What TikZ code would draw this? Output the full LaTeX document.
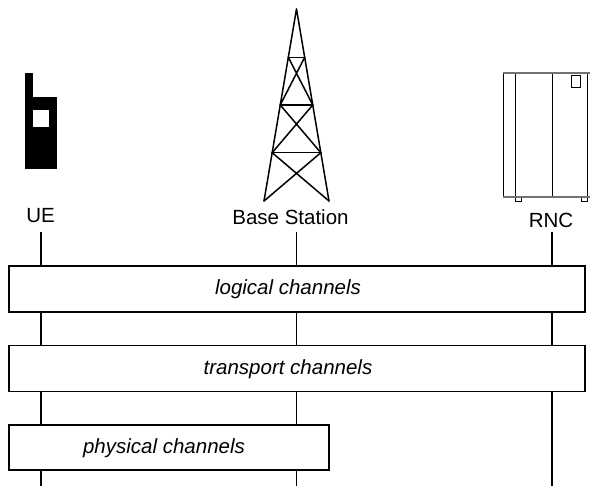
\documentclass[tikz,border=0pt]{standalone}
\usepackage{fontspec}
\setmainfont{Liberation Sans}
\usetikzlibrary{calc}

\tikzset{
  lbl/.style={inner sep=0pt, anchor=base, font=\fontsize{20.5}{24}\selectfont},
  chantext/.style={inner sep=0pt, anchor=base, font=\fontsize{20.5}{24}\selectfont\itshape},
  chanbox/.style={draw, line width=1.2pt, fill=white, inner sep=0pt},
  lifeline/.style={line width=1.1pt},
  mast/.style={line width=1.5pt, line cap=round, line join=round},
  cab/.style={line width=1pt},
  cabedge/.style={line width=2pt, draw=black!55},
}

\begin{document}
\begin{tikzpicture}[x=1pt, y=-1pt]
  \useasboundingbox (0,0) rectangle (592,486);

  % ---- handset (UE) ----
  \fill[black] (25,73) rectangle (33,97);
  \fill[black] (25,97) rectangle (57,169);
  \fill[white] (33,110) rectangle (49,127);

  % ---- lattice mast (base station) ----
  \coordinate (apex) at (296.5,9);
  \coordinate (bl) at (264,201);
  \coordinate (br) at (329,201);
  \coordinate (l1) at ($(apex)!0.2516!(bl)$);
  \coordinate (r1) at ($(apex)!0.2516!(br)$);
  \coordinate (l2) at ($(apex)!0.5!(bl)$);
  \coordinate (r2) at ($(apex)!0.5!(br)$);
  \coordinate (l3) at ($(apex)!0.7484!(bl)$);
  \coordinate (r3) at ($(apex)!0.7484!(br)$);
  \draw[mast] (bl) -- (apex) -- (br);
  \draw[mast] (l1) -- (r1) (l2) -- (r2) (l3) -- (r3);
  \draw[mast] (l1) -- (r2) (r1) -- (l2);
  \draw[mast] (l2) -- (r3) (r2) -- (l3);
  \draw[mast] (l3) -- (br) (r3) -- (bl);

  % ---- equipment cabinet (RNC) ----
  \fill[white] (503,73) rectangle (588,197);
  \draw[cab] (503.5,73) -- (503.5,197);
  \draw[cab] (515.5,73) -- (515.5,197);
  \draw[cab] (552,73) -- (552,197);
  \draw[cab] (587.5,73) -- (587.5,197);
  \draw[cab] (571,76) rectangle (580,88);
  \draw[line width=0.8pt] (515.5,197) rectangle (521.5,201);
  \draw[line width=0.8pt] (581.5,197) rectangle (587.5,201);
  \draw[cabedge] (503,73) -- (590,73);
  \draw[cabedge] (503,197) -- (590,197);

  % ---- entity labels ----
  \node[lbl] (ue) at (40.5,223) {UE};
  \node[lbl] (bs) at (290.5,225) {Base Station};
  \node[lbl] (rnc) at (551,228) {RNC};

  % ---- lifelines ----
  \coordinate (ue-top) at (41,232);
  \coordinate (ue-bot) at (41,486);
  \coordinate (bs-top) at (296.5,232);
  \coordinate (bs-bot) at (296.5,486);
  \coordinate (rnc-top) at (552,232);
  \coordinate (rnc-bot) at (552,486);
  \draw[lifeline] (ue-top) -- (ue-bot);
  \draw[lifeline] (bs-top) -- (bs-bot);
  \draw[lifeline] (rnc-top) -- (rnc-bot);

  % ---- channel layers ----
  \node[chanbox, minimum width=576pt, minimum height=46pt] (logical) at (297,289) {};
  \node[chantext] (logical-t) at (288,295) {logical channels};

  \node[chanbox, minimum width=576pt, minimum height=46pt] (transport) at (297,368.5) {};
  \node[chantext] (transport-t) at (288,374.5) {transport channels};

  \node[chanbox, minimum width=320pt, minimum height=45pt] (physical) at (169,447.5) {};
  \node[chantext] (physical-t) at (164,453.5) {physical channels};
\end{tikzpicture}
\end{document}
